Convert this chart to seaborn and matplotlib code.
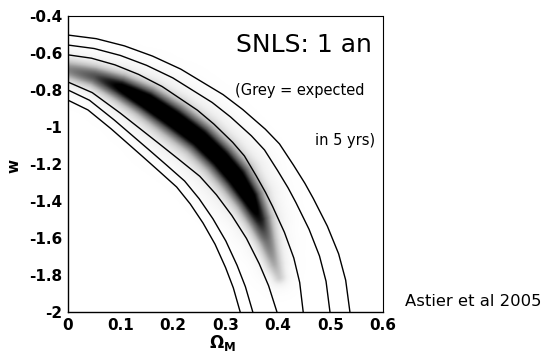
import numpy as np
import pandas as pd
import matplotlib
matplotlib.use("Agg")
import matplotlib.pyplot as plt
import seaborn as sns

# ---- contour lines: (Omega_M, w) ----
c1_om = [0, 0.038, 0.082, 0.143, 0.1738, 0.207, 0.2329, 0.2572, 0.2801, 0.3001, 0.3149, 0.328]
c1_w = [-0.855, -0.9077, -1.0096, -1.1619, -1.2397, -1.3245, -1.4161, -1.5191, -1.6336, -1.7596, -1.8695, -2.0]
c2_om = [0, 0.0408, 0.088, 0.1535, 0.1866, 0.2221, 0.2499, 0.276, 0.3006, 0.3221, 0.3379, 0.352]
c2_w = [-0.80, -0.8552, -0.962, -1.1216, -1.2032, -1.292, -1.388, -1.496, -1.616, -1.748, -1.8632, -2.0]
c3_om = [0, 0.0462, 0.0995, 0.1735, 0.2109, 0.2511, 0.2826, 0.312, 0.3399, 0.3642, 0.3821, 0.398]
c3_w = [-0.757, -0.8142, -0.9248, -1.0901, -1.1746, -1.2666, -1.3661, -1.4779, -1.6022, -1.739, -1.8583, -2.0]
c4_om = [0, 0.0448, 0.0896, 0.1344, 0.1792, 0.2464, 0.2778, 0.3136, 0.336, 0.3584, 0.3763, 0.3898, 0.4122, 0.4301, 0.4413, 0.448]
c4_w = [-0.61, -0.6281, -0.6642, -0.7156, -0.781, -0.9089, -0.9839, -1.0826, -1.1563, -1.2633, -1.3537, -1.4301, -1.5691, -1.7081, -1.8402, -2.0]
c5_om = [0, 0.0499, 0.0998, 0.1497, 0.1996, 0.2745, 0.3094, 0.3493, 0.3743, 0.3992, 0.4192, 0.4341, 0.4591, 0.4790, 0.4915, 0.499]
c5_w = [-0.557, -0.5758, -0.6133, -0.6667, -0.7345, -0.8672, -0.9452, -1.0476, -1.1241, -1.2352, -1.329, -1.4084, -1.5527, -1.697, -1.834, -2.0]
c6_om = [0, 0.0537, 0.1074, 0.1611, 0.2148, 0.2954, 0.3329, 0.3759, 0.4028, 0.4296, 0.4511, 0.4672, 0.4940, 0.5155, 0.5289, 0.537]
c6_w = [-0.503, -0.5225, -0.5614, -0.6168, -0.6871, -0.8249, -0.9057, -1.012, -1.0913, -1.2066, -1.3039, -1.3862, -1.536, -1.6856, -1.8278, -2.0]

# ---- grey band (expected in 5 yrs): ridge line, strength and half-width ----
band_om = [0, 0.05, 0.10, 0.15, 0.20, 0.25, 0.29, 0.32, 0.345, 0.365, 0.38, 0.393, 0.402]
band_w = [-0.69, -0.725, -0.785, -0.86, -0.955, -1.06, -1.17, -1.27, -1.38, -1.50, -1.62, -1.74, -1.81]
band_amp = [0.45, 0.6, 0.85, 1, 1, 1, 1, 1, 0.95, 0.75, 0.5, 0.35, 0.25]
band_sig = [7, 7, 8, 9, 10, 10, 10, 10, 9, 8, 7, 6, 5]

xticks = [0, 0.1, 0.2, 0.3, 0.4, 0.5, 0.6]
xtick_labels = ["0", "0.1", "0.2", "0.3", "0.4", "0.5", "0.6"]
yticks = [-2, -1.8, -1.6, -1.4, -1.2, -1, -0.8, -0.6, -0.4]
ytick_labels = ["-2", "-1.8", "-1.6", "-1.4", "-1.2", "-1", "-0.8", "-0.6", "-0.4"]

sns.set_style("white")
plt.rcParams['font.family'] = ['DejaVu Sans']
plt.rcParams['text.color'] = 'black'
plt.rcParams['xtick.color'] = 'black'
plt.rcParams['ytick.color'] = 'black'
plt.rcParams['axes.labelcolor'] = 'black'

fig = plt.figure(figsize=(5.45, 3.63), dpi=100)
ax = fig.add_axes([68 / 545, 1 - 312 / 363, 315 / 545, 296 / 363])

# density field for the band
px_om, px_w = 525.0, 185.0
om = np.linspace(0, 0.6, 721)
ww = np.linspace(-2, -0.4, 481)
GO, GW = np.meshgrid(om, ww)
X, Y = GO * px_om, GW * px_w
bx = np.array(band_om) * px_om
by = np.array(band_w) * px_w
amp = np.array(band_amp, float)
sig = np.array(band_sig, float)
I = np.zeros_like(X)
for i in range(len(bx) - 1):
    dx, dy = bx[i + 1] - bx[i], by[i + 1] - by[i]
    L2 = dx * dx + dy * dy
    t = np.clip(((X - bx[i]) * dx + (Y - by[i]) * dy) / L2, 0, 1)
    d = np.hypot(X - (bx[i] + t * dx), Y - (by[i] + t * dy))
    a = amp[i] + (amp[i + 1] - amp[i]) * t
    s = sig[i] + (sig[i + 1] - sig[i]) * t
    val = a * (0.75 * np.exp(-0.5 * (d / s) ** 2) + 0.25 * np.exp(-0.5 * (d / (2 * s)) ** 2))
    I = np.maximum(I, val)
ax.imshow(I, extent=[0, 0.6, -2, -0.4], origin='lower', cmap='Greys', vmin=0, vmax=0.8,
          aspect='auto', interpolation='bilinear', zorder=1)

curves = [(c1_om, c1_w), (c2_om, c2_w), (c3_om, c3_w), (c4_om, c4_w), (c5_om, c5_w), (c6_om, c6_w)]
for k, (cx, cy) in enumerate(curves):
    df = pd.DataFrame({"om": cx, "w": cy})
    sns.lineplot(data=df, x="om", y="w", sort=False, estimator=None, color="black",
                 linewidth=1.0, ax=ax, zorder=3)

ax.set_xlim(0, 0.6)
ax.set_ylim(-2, -0.4)
ax.set_xlabel("")
ax.set_ylabel("")
ax.set_xticks(xticks, labels=xtick_labels, fontweight="bold", fontsize=11)
ax.set_yticks(yticks, labels=ytick_labels, fontweight="bold", fontsize=11)
ax.set_xticks(np.arange(0, 0.6001, 0.02), minor=True)
ax.set_yticks(np.arange(-2, -0.3999, 0.05), minor=True)
ax.tick_params(which="major", direction="in", length=5, width=0.8, pad=4, color="black")
ax.tick_params(which="minor", direction="in", length=2.5, width=0.6, color="black")
ax.tick_params(axis="y", which="major", pad=4)
for side in ["left", "bottom"]:
    ax.spines[side].set_color("black")
    ax.spines[side].set_linewidth(1.0)
for side in ["top", "right"]:
    ax.spines[side].set_color("black")
    ax.spines[side].set_linewidth(0.8)
    ax.spines[side].set_linestyle((0, (1, 1)))

fig.text(372 / 545, 1 - 52 / 363, "SNLS: 1 an", ha="right", va="baseline", fontsize=18)
fig.text(235 / 545, 1 - 95 / 363, "(Grey = expected", ha="left", va="baseline", fontsize=10.5)
fig.text(375 / 545, 1 - 145 / 363, "in 5 yrs)", ha="right", va="baseline", fontsize=10.5)
fig.text(405 / 545, 1 - 306 / 363, "Astier et al 2005", ha="left", va="baseline", fontsize=11.8)
fig.text(14 / 545, 1 - 166 / 363, "w", rotation=90, ha="center", va="center",
         fontweight="bold", fontsize=11)
fig.text(222 / 545, 1 - 343 / 363, r"$\mathbf{\Omega_M}$", ha="center", va="center", fontsize=12)

fig.savefig("out.png", dpi=100, facecolor="white")
